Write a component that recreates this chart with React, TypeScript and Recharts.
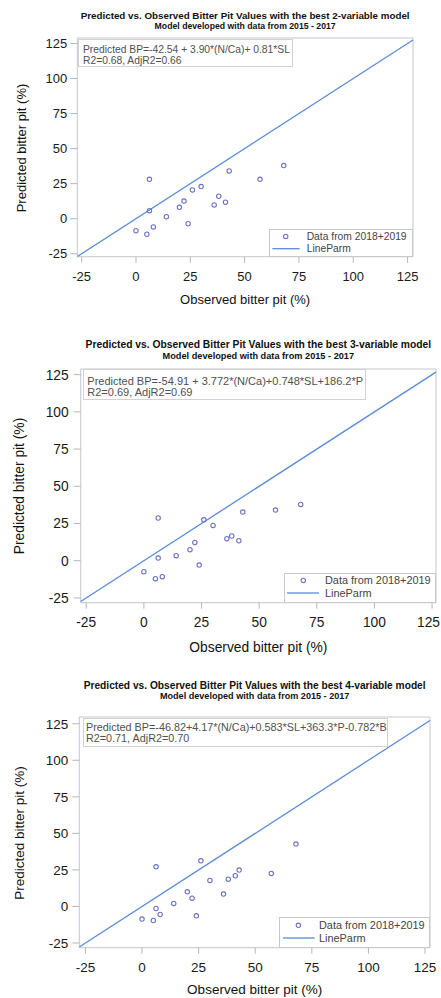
import React from 'react';
import { ScatterChart, Scatter, XAxis, YAxis, ReferenceLine, ReferenceArea, Legend } from 'recharts';

// ---------- data ----------
const observed = [0, 5, 6.2, 6.2, 8, 14, 20, 22.1, 24, 26, 30, 36, 38.1, 41.2, 42.9, 57.1, 68];
const predicted2var = [-8.6, -11.1, 28.1, 5.7, -5.9, 1.4, 8.1, 12.6, -3.6, 20.5, 22.9, 9.8, 16, 11.8, 34.1, 28.1, 37.9];
const predicted3var = [-7.4, -12.1, 28.7, 1.8, -10.7, 3.4, 7.4, 12.3, -2.9, 27.5, 23.7, 14.8, 16.6, 13.4, 32.7, 34, 37.8];
const predicted4var = [-8.6, -9.6, 27.1, -1.4, -5.5, 2.1, 10.0, 5.7, -6.4, 31.2, 17.8, 8.5, 18.7, 21.0, 24.9, 22.6, 42.7];
const axisTicks = [-25, 0, 25, 50, 75, 100, 125];
const titles = [
  'Predicted vs. Observed Bitter Pit Values with the best 2-variable model',
  'Predicted vs. Observed Bitter Pit Values with the best 3-variable model',
  'Predicted vs. Observed Bitter Pit Values with the best 4-variable model',
];
const subtitle = 'Model developed with data from 2015 - 2017';
const equations = [
  'Predicted BP=-42.54 + 3.90*(N/Ca)+ 0.81*SL',
  'Predicted BP=-54.91 + 3.772*(N/Ca)+0.748*SL+186.2*P',
  'Predicted BP=-46.82+4.17*(N/Ca)+0.583*SL+363.3*P-0.782*B',
];
const fitStats = ['R2=0.68, AdjR2=0.66', 'R2=0.69, AdjR2=0.69', 'R2=0.71, AdjR2=0.70'];
const legendLabels = ['Data from 2018+2019', 'LineParm'];
const xTitle = 'Observed bitter pit (%)';
const yTitle = 'Predicted bitter pit (%)';

const seriesList = [predicted2var, predicted3var, predicted4var];

// ---------- layout ----------
const FONT = 'Liberation Sans, Arial, Helvetica, sans-serif';
const PAGE_W = 441;
const layouts = [
  {
    boxL: 77.3, boxR: 413, boxT: 38.3, boxB: 257,
    xDom: [-27, 127.5], yDom: [-27.1, 128.9],
    tickFont: 13, yTickMargin: 3, xTickMargin: 9,
    titleY: 16, subY: 26.2, titleFont: 9.8, subFont: 8.7,
    xTitleY: 299, yTitleX: 21, axisFont: 13,
    inset: { l: 78, t: 39, r: 293, b: 67, tx: 83, y1: 50, y2: 61, font: 10.3 },
    legend: { l: 269.3, t: 229.3, font: 10.3, row1: 7.4, row2: 19.7, mx: 16.7, lx1: 3.4, lx2: 30.7, tx: 37.7 },
  },
  {
    boxL: 80.7, boxR: 436, boxT: 369.3, boxB: 603,
    xDom: [-27.4, 126.7], yDom: [-28.2, 128.8],
    tickFont: 13.8, yTickMargin: 5, xTickMargin: 9,
    titleY: 345, subY: 357, titleFont: 10.3, subFont: 9.2,
    xTitleY: 647.5, yTitleX: 20, axisFont: 13.8,
    inset: { l: 83, t: 369.3, r: 366, b: 400, tx: 87.3, y1: 381, y2: 392.7, font: 11 },
    legend: { l: 284, t: 573.3, font: 10.9, row1: 7.4, row2: 20, mx: 19.3, lx1: 3, lx2: 35, tx: 41 },
  },
  {
    boxL: 79.3, boxR: 430, boxT: 717.3, boxB: 948,
    xDom: [-27.7, 127.2], yDom: [-28.2, 129.6],
    tickFont: 13.5, yTickMargin: 4, xTickMargin: 9,
    titleY: 686, subY: 697, titleFont: 10.2, subFont: 9.1,
    xTitleY: 990, yTitleX: 20, axisFont: 13.5,
    inset: { l: 82.7, t: 718.3, r: 388.3, b: 746.7, tx: 86, y1: 727.3, y2: 738.3, font: 10.8 },
    legend: { l: 279.3, t: 916.7, font: 10.9, row1: 8.3, row2: 21, mx: 19.4, lx1: 4, lx2: 35.7, tx: 40 },
  },
];

const MARKER = '#6d74c2';
const FITLINE = '#5b8cd8';
const FRAME = '#c3c7ce';

const Ring = (props: any) => {
  const { cx, cy } = props;
  if (cx == null || cy == null) return null;
  return <circle cx={cx} cy={cy} r={2.2} fill="none" stroke={MARKER} strokeWidth={1.1} />;
};

// x tick label that stays inside the page if it would run past the right edge
const makeXTick = (fontSize: number) => (props: any) => {
  const { x, y, payload } = props;
  const label = String(payload.value);
  const approxW = label.length * fontSize * 0.556;
  const overflow = x + approxW / 2 > PAGE_W - 1;
  return (
    <text
      x={overflow ? PAGE_W - 1 : x}
      y={y}
      dy="0.71em"
      textAnchor={overflow ? 'end' : 'middle'}
      fontSize={fontSize}
      fill="#1a1a1a"
      fontFamily={FONT}
    >
      {label}
    </text>
  );
};

function Panel({ idx }: { idx: number }) {
  const L = layouts[idx];
  const pred = seriesList[idx];
  const data = observed.map((x, i) => ({ x, y: pred[i] }));
  const padTop = 10;
  const xAxisH = 40;
  const chartTop = L.boxT - padTop;
  const chartH = padTop + (L.boxB - L.boxT) + xAxisH;
  const lo = Math.max(L.xDom[0], L.yDom[0]);
  const hi = Math.min(L.xDom[1], L.yDom[1]);
  const lg = L.legend;
  const legW = L.boxR - lg.l;
  const legH = L.boxB - lg.t;
  const boxCX = (L.boxL + L.boxR) / 2;
  const boxCY = (L.boxT + L.boxB) / 2;

  const legendContent = () => (
    <div
      style={{
        width: legW,
        height: legH,
        boxSizing: 'border-box',
        border: '1px solid #c8c8c8',
        background: '#fff',
        position: 'relative',
      }}
    >
      <svg width={legW} height={legH} style={{ position: 'absolute', left: -1, top: -1, overflow: 'visible' }}>
        <circle cx={lg.mx} cy={lg.row1} r={2.2} fill="none" stroke={MARKER} strokeWidth={1.1} />
        <line x1={lg.lx1} x2={lg.lx2} y1={lg.row2} y2={lg.row2} stroke={FITLINE} strokeWidth={1.3} />
        <text x={lg.tx} y={lg.row1} dy="0.36em" fontSize={lg.font} fill="#444" fontFamily={FONT}>
          {legendLabels[0]}
        </text>
        <text x={lg.tx} y={lg.row2} dy="0.36em" fontSize={lg.font} fill="#444" fontFamily={FONT}>
          {legendLabels[1]}
        </text>
      </svg>
    </div>
  );

  const centered = (x: number, y: number, extra: React.CSSProperties = {}): React.CSSProperties => ({
    position: 'absolute',
    left: x,
    top: y,
    transform: 'translate(-50%, -50%)',
    whiteSpace: 'nowrap',
    fontFamily: FONT,
    lineHeight: 1,
    ...extra,
  });

  return (
    <>
      <div style={{ position: 'absolute', left: 0, top: chartTop, width: PAGE_W, height: chartH }}>
        <ScatterChart
          width={PAGE_W}
          height={chartH}
          margin={{ top: padTop, right: PAGE_W - L.boxR, left: 0, bottom: 0 }}
        >
          <XAxis
            type="number"
            dataKey="x"
            domain={L.xDom}
            allowDataOverflow
            ticks={axisTicks}
            interval={0}
            height={xAxisH}
            tickSize={6}
            tickMargin={L.xTickMargin}
            axisLine={false}
            tickLine={{ stroke: '#b3b7bf' }}
            tick={makeXTick(L.tickFont)}
          />
          <YAxis
            type="number"
            dataKey="y"
            domain={L.yDom}
            allowDataOverflow
            ticks={axisTicks}
            interval={0}
            width={L.boxL}
            tickSize={7}
            tickMargin={L.yTickMargin}
            axisLine={false}
            tickLine={{ stroke: '#b3b7bf' }}
            tick={{ fontSize: L.tickFont, fill: '#1a1a1a', fontFamily: FONT }}
          />
          <ReferenceArea
            x1={L.xDom[0]}
            x2={L.xDom[1]}
            y1={L.yDom[0]}
            y2={L.yDom[1]}
            fill="none"
            fillOpacity={0}
            stroke={FRAME}
            strokeWidth={1}
            ifOverflow="visible"
          />
          <ReferenceLine
            segment={[{ x: lo, y: lo }, { x: hi, y: hi }]}
            stroke={FITLINE}
            strokeWidth={1.3}
            ifOverflow="visible"
          />
          <Scatter data={data} name={legendLabels[0]} shape={Ring} isAnimationActive={false} />
          <Legend
            layout="horizontal"
            verticalAlign="middle"
            align="center"
            wrapperStyle={{ left: lg.l, top: lg.t - chartTop, width: legW, height: legH }}
            content={legendContent}
          />
        </ScatterChart>
      </div>

      {/* titles */}
      <div style={centered(boxCX, L.titleY, { fontSize: L.titleFont, fontWeight: 700, color: '#111' })}>
        {titles[idx]}
      </div>
      <div style={centered(boxCX, L.subY, { fontSize: L.subFont, fontWeight: 700, color: '#111' })}>
        {subtitle}
      </div>

      {/* axis titles */}
      <div style={centered(boxCX, L.xTitleY, { fontSize: L.axisFont, color: '#111' })}>{xTitle}</div>
      <div
        style={{
          position: 'absolute',
          left: L.yTitleX,
          top: boxCY,
          transform: 'translate(-50%, -50%) rotate(-90deg)',
          whiteSpace: 'nowrap',
          fontFamily: FONT,
          fontSize: L.axisFont,
          lineHeight: 1,
          color: '#111',
        }}
      >
        {yTitle}
      </div>

      {/* inset equation box */}
      <div
        style={{
          position: 'absolute',
          left: L.inset.l,
          top: L.inset.t,
          width: L.inset.r - L.inset.l,
          height: L.inset.b - L.inset.t,
          boxSizing: 'border-box',
          border: '1px solid #d2d2d2',
          background: '#fff',
        }}
      />
      <div
        style={{
          position: 'absolute',
          left: L.inset.tx,
          top: L.inset.y1 - L.inset.font / 2,
          fontSize: L.inset.font,
          lineHeight: 1,
          fontFamily: FONT,
          color: '#505050',
          whiteSpace: 'nowrap',
        }}
      >
        {equations[idx]}
      </div>
      <div
        style={{
          position: 'absolute',
          left: L.inset.tx,
          top: L.inset.y2 - L.inset.font / 2,
          fontSize: L.inset.font,
          lineHeight: 1,
          fontFamily: FONT,
          color: '#505050',
          whiteSpace: 'nowrap',
        }}
      >
        {fitStats[idx]}
      </div>
    </>
  );
}

export default function App() {
  return (
    <div style={{ position: 'absolute', left: 0, top: 0, width: PAGE_W, height: 998, background: '#fff', overflow: 'hidden' }}>
      <Panel idx={0} />
      <Panel idx={1} />
      <Panel idx={2} />
    </div>
  );
}
